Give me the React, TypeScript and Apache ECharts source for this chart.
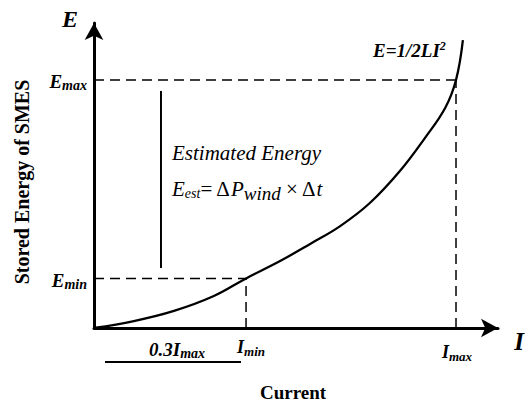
import React, { useEffect, useRef } from "react";
import * as echarts from "echarts";

// Current (normalised, I_max = 1) and stored energy (normalised, E_max = 1)
const CURRENT = [0, 0.11, 0.221, 0.331, 0.42, 0.514, 0.597, 0.68, 0.762, 0.845, 0.914, 0.97, 1.0, 1.019];
const ENERGY = [0, 0.028, 0.069, 0.129, 0.2, 0.27, 0.339, 0.411, 0.504, 0.633, 0.766, 0.887, 1.0, 1.161];

const I_MIN = 0.42;
const I_MAX = 1.0;
const E_MIN = 0.2;
const E_MAX = 1.0;

// estimated-energy bar (current position, energy span)
const EST_BAR_I = 0.185;
const EST_BAR_E = [0.242, 0.956];

const X_AXIS_MAX = 1.116;
const Y_AXIS_MAX = 1.23;

const Y_TICK_LABELS = ["E_max", "E_min"];
const X_TICK_LABELS = ["I_min", "I_max", "0.3I_max"];

const FONT = "Liberation Serif";

export default function App() {
  const ref = useRef<HTMLDivElement>(null);

  useEffect(() => {
    if (!ref.current) return;
    const chart = echarts.init(ref.current, undefined, { renderer: "svg" });

    const curve = CURRENT.map((c, i) => [c, ENERGY[i]]);
    const dash = { color: "#000", width: 1.5, type: [10, 6] as any };

    const sub = (size: number, pad: number) => ({
      fontSize: size,
      lineHeight: size,
      fontWeight: "bold",
      fontStyle: "italic",
      fontFamily: FONT,
      color: "#000",
      padding: [pad, 0, 0, 0],
    });
    const main = (size: number) => ({
      fontSize: size,
      lineHeight: size,
      fontWeight: "bold",
      fontStyle: "italic",
      fontFamily: FONT,
      color: "#000",
    });
    const richLabel = (label: string, size: number, subSize: number) => {
      const [a, b] = label.split("_");
      return {
        text: `{m|${a}}{s|${b}}`,
        rich: { m: main(size), s: sub(subSize, 9) },
      };
    };

    const textEl = (x: number, y: number, style: any, align = "center", extra: any = {}) => ({
      type: "text",
      x,
      y,
      ...extra,
      style: {
        fill: "#000",
        fontFamily: FONT,
        align,
        verticalAlign: "middle",
        ...style,
      },
    });

    const yMaxL = richLabel(Y_TICK_LABELS[0], 19, 14);
    const yMinL = richLabel(Y_TICK_LABELS[1], 19, 14);
    const xMinL = richLabel(X_TICK_LABELS[0], 18, 13);
    const xMaxL = richLabel(X_TICK_LABELS[1], 18, 13);
    const x03L = richLabel(X_TICK_LABELS[2], 19, 14);

    const axisCommon = {
      axisLine: {
        show: true,
        onZero: false,
        lineStyle: { color: "#000", width: 3 },
        symbol: ["none", "arrow"],
        symbolSize: [14, 17],
      },
      axisTick: { show: false },
      axisLabel: { show: false },
      splitLine: { show: false },
    };

    const option: any = {
      animation: false,
      grid: { left: 94, right: 32, top: 23, bottom: 78, containLabel: false },
      xAxis: { type: "value", min: 0, max: X_AXIS_MAX, ...axisCommon },
      yAxis: { type: "value", min: 0, max: Y_AXIS_MAX, ...axisCommon },
      series: [
        { type: "line", data: [[0, E_MAX], [I_MAX, E_MAX]], symbol: "none", lineStyle: dash },
        { type: "line", data: [[I_MAX, 0], [I_MAX, E_MAX]], symbol: "none", lineStyle: dash },
        { type: "line", data: [[0, E_MIN], [I_MIN, E_MIN]], symbol: "none", lineStyle: dash },
        { type: "line", data: [[I_MIN, 0], [I_MIN, E_MIN]], symbol: "none", lineStyle: dash },
        {
          type: "line",
          data: [[EST_BAR_I, EST_BAR_E[0]], [EST_BAR_I, EST_BAR_E[1]]],
          symbol: "none",
          lineStyle: { color: "#000", width: 2 },
        },
        {
          type: "line",
          data: curve,
          smooth: 0.4,
          symbol: "none",
          lineStyle: { color: "#000", width: 2.3 },
          z: 5,
        },
      ],
      graphic: [
        textEl(70, 19, { text: "E", fontSize: 24, fontWeight: "bold", fontStyle: "italic" }),
        textEl(519, 341, { text: "I", fontSize: 25, fontWeight: "bold", fontStyle: "italic" }),
        textEl(87, 81, yMaxL, "right"),
        textEl(87, 280, yMinL, "right"),
        textEl(251, 347, xMinL),
        textEl(457, 352, xMaxL),
        textEl(177, 349, x03L),
        {
          type: "line",
          shape: { x1: 105, y1: 362, x2: 241, y2: 362 },
          style: { stroke: "#000", lineWidth: 2 },
        },
        textEl(373, 50, {
          text: "{m|E=1/2LI}{p|2}",
          rich: {
            m: main(19),
            p: { ...main(12), padding: [0, 0, 9, 0] },
          },
        }, "left"),
        textEl(172, 153, {
          text: "Estimated Energy",
          fontSize: 21,
          fontStyle: "italic",
        }, "left"),
        textEl(172, 189, {
          text: "{e|E}{s|est}{n|= \u0394}{e|P}{w|wind}{n| \u00d7 \u0394}{e|t}",
          rich: {
            e: { fontSize: 21, lineHeight: 21, fontStyle: "italic", fontFamily: FONT, color: "#000" },
            n: { fontSize: 21, lineHeight: 21, fontFamily: FONT, color: "#000" },
            s: { fontSize: 14, lineHeight: 14, fontStyle: "italic", fontFamily: FONT, color: "#000", padding: [9, 0, 0, 0] },
            w: { fontSize: 19, lineHeight: 19, fontStyle: "italic", fontFamily: FONT, color: "#000", padding: [9, 0, 0, 0] },
          },
        }, "left"),
        textEl(293, 392, { text: "Current", fontSize: 19, fontWeight: "bold" }),
        textEl(22, 182, { text: "Stored Energy of SMES", fontSize: 20, fontWeight: "bold" }, "center", { rotation: Math.PI / 2 }),
      ],
    };

    chart.setOption(option);
    return () => chart.dispose();
  }, []);

  return <div ref={ref} style={{ position: "absolute", left: 0, top: 0, width: 530, height: 406 }} />;
}
